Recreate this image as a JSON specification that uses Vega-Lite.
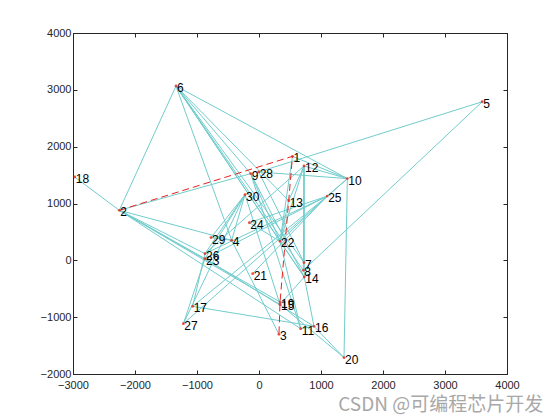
{
  "$schema": "https://vega.github.io/schema/vega-lite/v6.json",
  "autosize": "none",
  "width": 434,
  "height": 341,
  "padding": {"left": 73, "top": 33, "right": 53, "bottom": 46},
  "background": "white",
  "config": {
    "view": {"stroke": "#262626", "strokeWidth": 1},
    "font": "Liberation Sans",
    "axis": {"grid": false, "domainColor": "#262626", "tickColor": "#262626", "labelColor": "#262626", "labelFont": "Liberation Sans", "labelFontSize": 11, "tickSize": -4, "labelPadding": 9, "labelFlush": false, "labelOverlap": false, "format": "d"}
  },
  "title": {"text": "CSDN @可编程芯片开发", "orient": "bottom", "anchor": "end", "dx": 24, "offset": 6, "fontSize": 19, "fontWeight": "normal", "color": "#a8a8a8", "font": "Noto Sans CJK SC"},
  "datasets": {
    "nodes": [
      {"id": 1, "x": 540, "y": 1830},
      {"id": 2, "x": -2253, "y": 880},
      {"id": 3, "x": 322, "y": -1302},
      {"id": 4, "x": -441, "y": 352},
      {"id": 5, "x": 3600, "y": 2790},
      {"id": 6, "x": -1339, "y": 3067},
      {"id": 7, "x": 726, "y": -40},
      {"id": 8, "x": 715, "y": -176},
      {"id": 9, "x": -134, "y": 1526},
      {"id": 10, "x": 1425, "y": 1438},
      {"id": 11, "x": 672, "y": -1202},
      {"id": 12, "x": 726, "y": 1660},
      {"id": 13, "x": 479, "y": 1050},
      {"id": 14, "x": 730, "y": -293},
      {"id": 15, "x": 339, "y": -775},
      {"id": 16, "x": 887, "y": -1161},
      {"id": 17, "x": -1070, "y": -810},
      {"id": 18, "x": -2972, "y": 1466},
      {"id": 19, "x": 339, "y": -733},
      {"id": 20, "x": 1371, "y": -1712},
      {"id": 21, "x": -102, "y": -234},
      {"id": 22, "x": 339, "y": 334},
      {"id": 23, "x": -871, "y": 30},
      {"id": 24, "x": -156, "y": 663},
      {"id": 25, "x": 1100, "y": 1130},
      {"id": 26, "x": -871, "y": 118},
      {"id": 27, "x": -1220, "y": -1115},
      {"id": 28, "x": -5, "y": 1555},
      {"id": 29, "x": -774, "y": 400},
      {"id": 30, "x": -226, "y": 1156}
    ],
    "edges": [
      {"s": 18, "t": 2}, {"s": 2, "t": 6}, {"s": 2, "t": 9}, {"s": 2, "t": 4},
      {"s": 2, "t": 26}, {"s": 2, "t": 23}, {"s": 2, "t": 15}, {"s": 2, "t": 19},
      {"s": 2, "t": 11}, {"s": 6, "t": 10}, {"s": 6, "t": 4}, {"s": 6, "t": 22},
      {"s": 6, "t": 7}, {"s": 6, "t": 8}, {"s": 6, "t": 14}, {"s": 6, "t": 13},
      {"s": 6, "t": 9}, {"s": 5, "t": 28}, {"s": 5, "t": 8}, {"s": 1, "t": 10},
      {"s": 28, "t": 10}, {"s": 12, "t": 10}, {"s": 10, "t": 25}, {"s": 10, "t": 20},
      {"s": 10, "t": 27}, {"s": 12, "t": 22}, {"s": 12, "t": 13}, {"s": 12, "t": 7},
      {"s": 12, "t": 14}, {"s": 12, "t": 26}, {"s": 25, "t": 24}, {"s": 25, "t": 23},
      {"s": 25, "t": 17}, {"s": 25, "t": 21}, {"s": 25, "t": 22}, {"s": 25, "t": 26},
      {"s": 30, "t": 4}, {"s": 30, "t": 29}, {"s": 30, "t": 23}, {"s": 30, "t": 26},
      {"s": 30, "t": 15}, {"s": 9, "t": 22}, {"s": 9, "t": 14}, {"s": 9, "t": 11},
      {"s": 24, "t": 22}, {"s": 29, "t": 4}, {"s": 4, "t": 3}, {"s": 26, "t": 17},
      {"s": 23, "t": 27}, {"s": 17, "t": 16}, {"s": 30, "t": 27}, {"s": 15, "t": 14},
      {"s": 11, "t": 16}, {"s": 16, "t": 20}, {"s": 16, "t": 14}, {"s": 22, "t": 11},
      {"s": 22, "t": 14}, {"s": 13, "t": 22}, {"s": 15, "t": 20}, {"s": 23, "t": 16},
      {"s": 1, "t": 22}, {"s": 12, "t": 8}, {"s": 28, "t": 7}
    ],
    "path": [
      {"id": 2, "step": 1}, {"id": 1, "step": 2}, {"id": 13, "step": 3},
      {"id": 19, "step": 4}, {"id": 3, "step": 5}
    ]
  },
  "layer": [
    {
      "data": {"name": "edges"},
      "transform": [
        {"lookup": "s", "from": {"data": {"name": "nodes"}, "key": "id", "fields": ["x", "y"]}, "as": ["sx", "sy"]},
        {"lookup": "t", "from": {"data": {"name": "nodes"}, "key": "id", "fields": ["x", "y"]}, "as": ["tx", "ty"]}
      ],
      "mark": {"type": "rule", "color": "#72cccc", "strokeWidth": 1},
      "encoding": {
        "x": {"field": "sx", "type": "quantitative", "scale": {"domain": [-3000, 4000], "nice": false, "zero": false}, "axis": {"title": null, "values": [-3000, -2000, -1000, 0, 1000, 2000, 3000, 4000]}},
        "y": {"field": "sy", "type": "quantitative", "scale": {"domain": [-2000, 4000], "nice": false, "zero": false}, "axis": {"title": null, "values": [-2000, -1000, 0, 1000, 2000, 3000, 4000], "labelPadding": 6}},
        "x2": {"field": "tx"},
        "y2": {"field": "ty"}
      }
    },
    {
      "data": {"name": "path"},
      "transform": [
        {"lookup": "id", "from": {"data": {"name": "nodes"}, "key": "id", "fields": ["x", "y"]}}
      ],
      "mark": {"type": "line", "color": "#e8231f", "strokeWidth": 1, "strokeDash": [7, 4]},
      "encoding": {
        "x": {"field": "x", "type": "quantitative", "axis": {"orient": "top", "labels": false, "title": null, "values": [-3000, -2000, -1000, 0, 1000, 2000, 3000, 4000]}},
        "y": {"field": "y", "type": "quantitative", "axis": {"orient": "right", "labels": false, "title": null, "values": [-2000, -1000, 0, 1000, 2000, 3000, 4000]}},
        "order": {"field": "step", "type": "quantitative"}
      }
    },
    {
      "data": {"name": "nodes"},
      "mark": {"type": "circle", "color": "#e8231f", "size": 8, "opacity": 0.8},
      "encoding": {
        "x": {"field": "x", "type": "quantitative", "axis": null},
        "y": {"field": "y", "type": "quantitative", "axis": null}
      }
    },
    {
      "data": {"name": "nodes"},
      "mark": {"type": "text", "align": "left", "baseline": "middle", "dx": 1, "dy": 2, "fontSize": 12, "font": "Liberation Sans", "color": "#000000"},
      "encoding": {
        "x": {"field": "x", "type": "quantitative", "axis": null},
        "y": {"field": "y", "type": "quantitative", "axis": null},
        "text": {"field": "id", "type": "nominal"}
      }
    }
  ],
  "resolve": {"axis": {"x": "independent", "y": "independent"}}
}
